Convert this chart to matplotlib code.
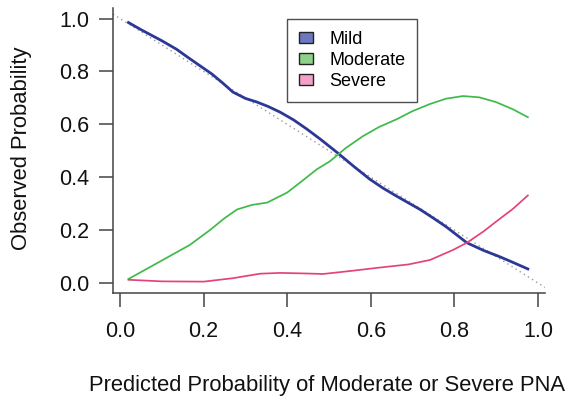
import matplotlib
matplotlib.use("Agg")
import matplotlib.pyplot as plt
from matplotlib.patches import Patch

plt.rcParams["font.family"] = ["Liberation Sans", "DejaVu Sans"]

# values
mild_x = [0.02, 0.05, 0.10, 0.135, 0.167, 0.22, 0.245, 0.27, 0.30, 0.328, 0.355,
          0.383, 0.415, 0.447, 0.48, 0.519, 0.56, 0.598, 0.63, 0.66, 0.69, 0.718,
          0.75, 0.78, 0.83, 0.87, 0.909, 0.94, 0.976]
mild_y = [0.985, 0.958, 0.916, 0.884, 0.848, 0.79, 0.757, 0.722, 0.698, 0.684, 0.667,
          0.646, 0.617, 0.582, 0.543, 0.494, 0.44, 0.392, 0.358, 0.33, 0.303, 0.278,
          0.245, 0.213, 0.152, 0.123, 0.099, 0.078, 0.053]

moderate_x = [0.02, 0.10, 0.167, 0.215, 0.25, 0.28, 0.315, 0.352, 0.40, 0.435,
              0.471, 0.502, 0.54, 0.581, 0.62, 0.663, 0.70, 0.742, 0.78, 0.821,
              0.86, 0.90, 0.94, 0.976]
moderate_y = [0.015, 0.085, 0.144, 0.20, 0.245, 0.278, 0.295, 0.304, 0.342, 0.385,
              0.43, 0.46, 0.51, 0.555, 0.59, 0.62, 0.65, 0.677, 0.697, 0.707,
              0.702, 0.684, 0.657, 0.627]

severe_x = [0.02, 0.10, 0.20, 0.27, 0.335, 0.383, 0.44, 0.486, 0.55, 0.62,
            0.69, 0.742, 0.797, 0.83, 0.87, 0.90, 0.94, 0.976]
severe_y = [0.012, 0.006, 0.005, 0.018, 0.035, 0.038, 0.036, 0.034, 0.045, 0.058,
            0.07, 0.087, 0.125, 0.152, 0.195, 0.232, 0.28, 0.331]

legend_labels = ["Mild", "Moderate", "Severe"]
line_colors = ["#2B3897", "#3FBA4A", "#E2437F"]
patch_colors = ["#6E78C0", "#90D08A", "#F5A0C8"]
ticks = [0.0, 0.2, 0.4, 0.6, 0.8, 1.0]

fig = plt.figure(figsize=(5.69, 4.0), dpi=100)
ax = fig.add_axes([0.1986, 0.2675, 0.7592, 0.7125])

ax.axline((0, 1), slope=-1, color="#9A9A9A", linestyle=(0, (1, 2.5)), linewidth=1.0)
ax.plot(mild_x, mild_y, color=line_colors[0], linewidth=2.0, solid_joinstyle="round")
ax.plot(moderate_x, moderate_y, color=line_colors[1], linewidth=1.25, solid_joinstyle="round")
ax.plot(severe_x, severe_y, color=line_colors[2], linewidth=1.25, solid_joinstyle="round")

ax.set_xlim(-0.017, 1.017)
ax.set_ylim(-0.038, 1.04)
ax.set_xticks(ticks)
ax.set_yticks(ticks)
ax.set_xticklabels([f"{t:.1f}" for t in ticks])
ax.set_yticklabels([f"{t:.1f}" for t in ticks])
for side in ("top", "right"):
    ax.spines[side].set_visible(False)
for side in ("left", "bottom"):
    ax.spines[side].set_color("#444444")
    ax.spines[side].set_linewidth(1.1)
ax.tick_params(direction="out", length=10, width=1.1, color="#444444",
               labelsize=15.5, pad=7, labelcolor="#111111")
ax.tick_params(axis="x", pad=10)

fig.text(0.575, 0.037, "Predicted Probability of Moderate or Severe PNA",
         ha="center", va="center", fontsize=15.8, color="#111111")
fig.text(0.038, 0.63, "Observed Probability", rotation=90,
         ha="center", va="center", fontsize=15.8, color="#111111")

handles = [Patch(facecolor=c, edgecolor="#222222", linewidth=1.0) for c in patch_colors]
leg = ax.legend(handles, legend_labels, loc="upper left", bbox_to_anchor=(0.403, 0.961),
                fontsize=13, frameon=True, fancybox=False, handlelength=0.8,
                handleheight=0.6, handletextpad=0.9, borderpad=0.65, labelspacing=0.22,
                borderaxespad=0)
leg.get_frame().set_edgecolor("#222222")
leg.get_frame().set_linewidth(1.0)

fig.savefig("out.png", dpi=100)
